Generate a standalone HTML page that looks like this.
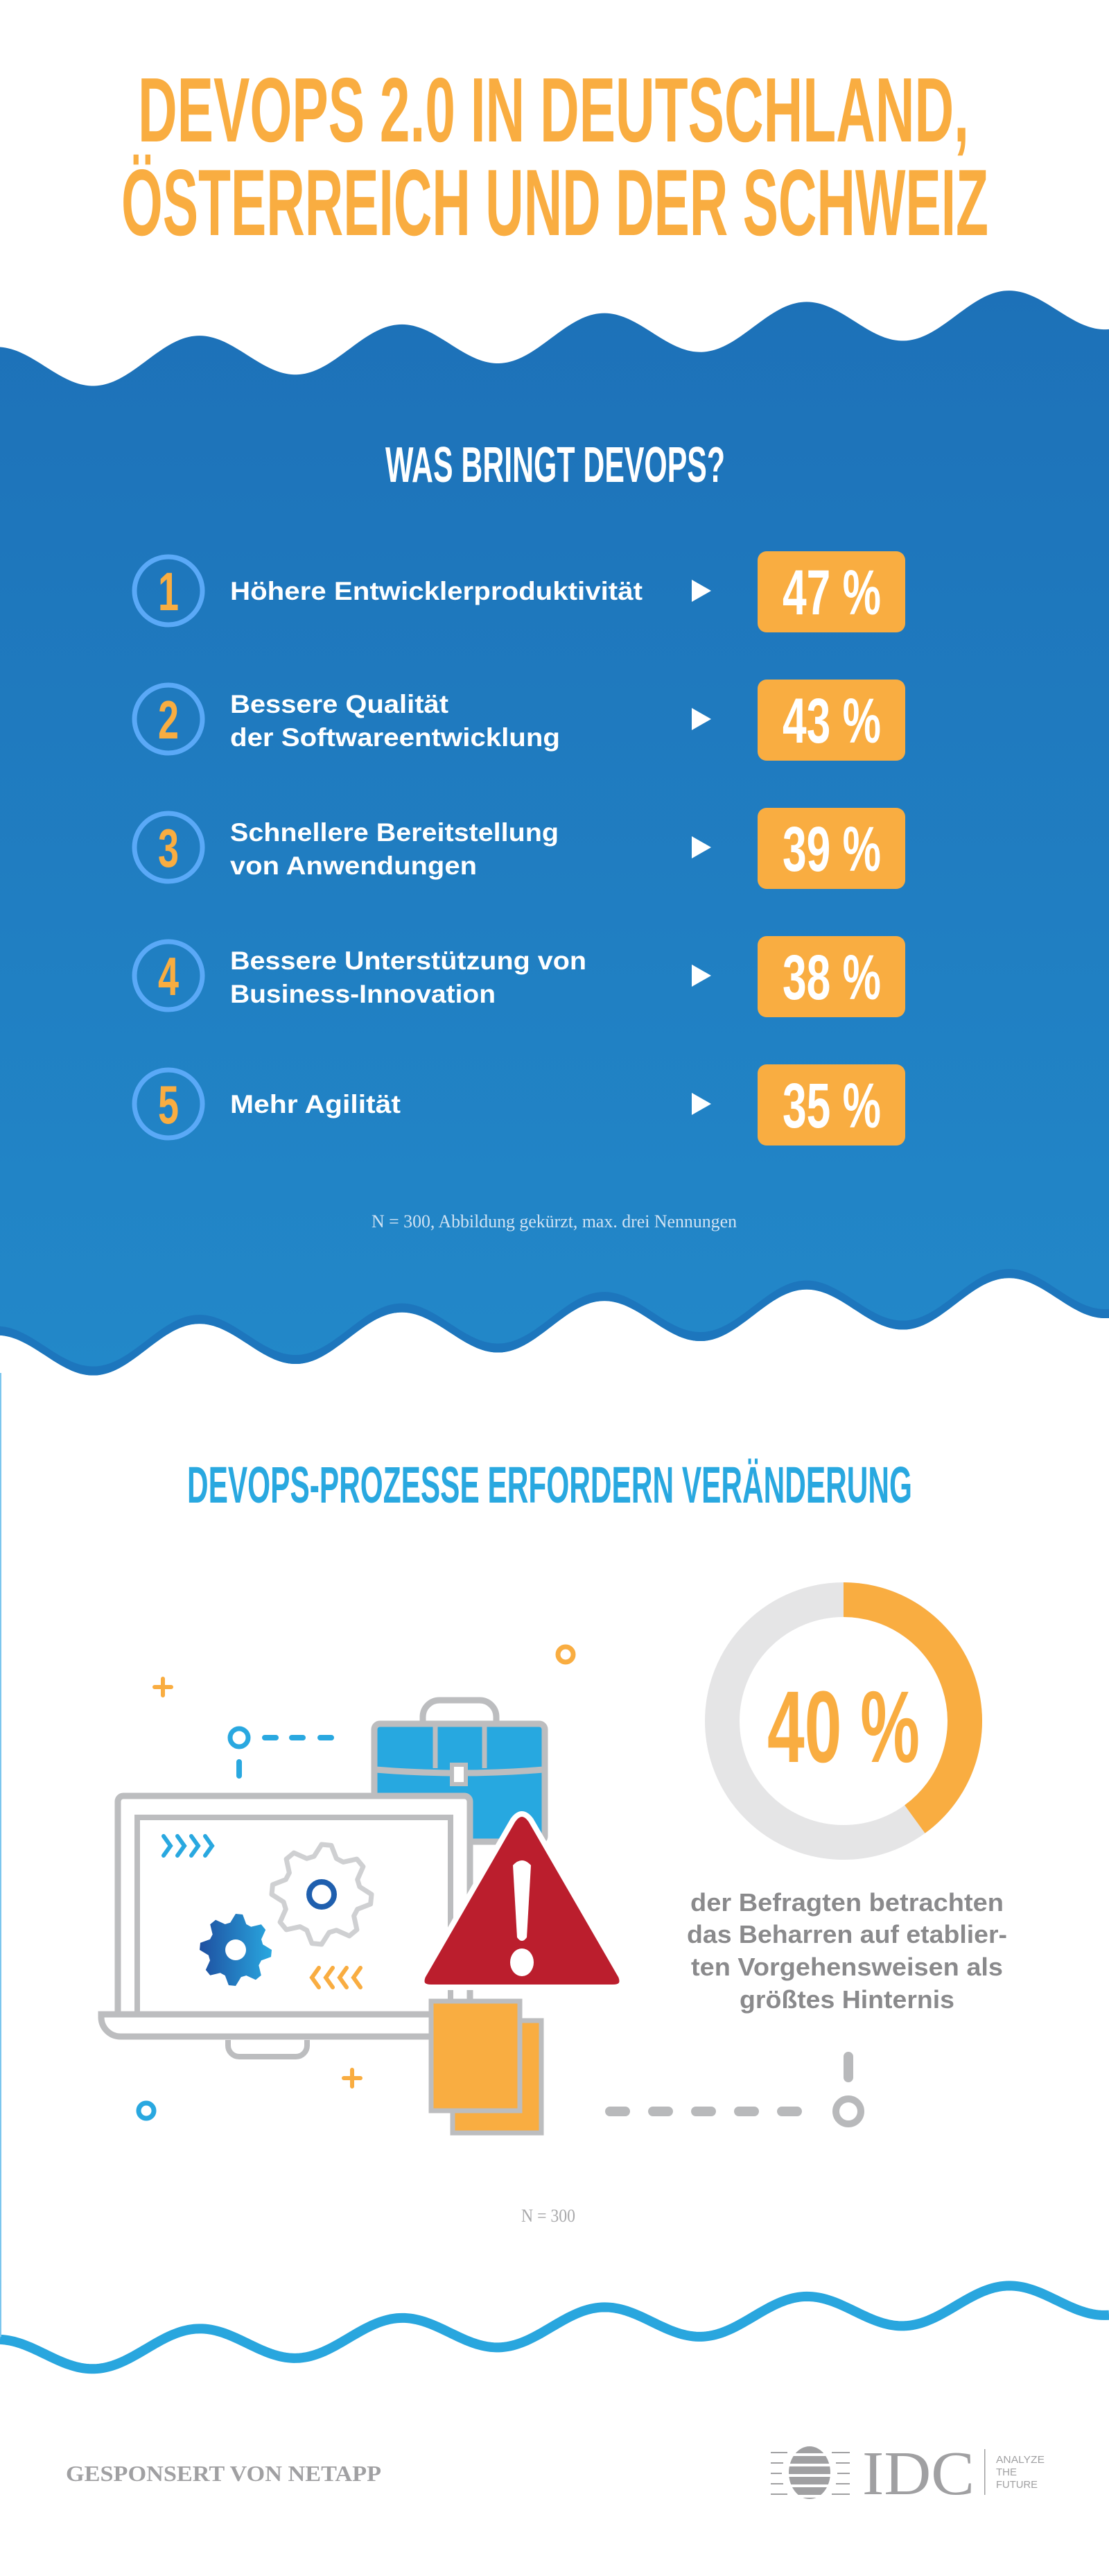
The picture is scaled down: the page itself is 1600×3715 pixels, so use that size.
<!DOCTYPE html>
<html><head><meta charset="utf-8"><title>DevOps 2.0</title>
<style>html,body{margin:0;padding:0;background:#fff;}svg{display:block;}</style></head>
<body>
<svg id="page" width="1600" height="3715" viewBox="0 0 1600 3715" xmlns="http://www.w3.org/2000/svg">
<defs>
<linearGradient id="bg" x1="0" y1="0" x2="0" y2="1"><stop offset="0" stop-color="#1d71b8"/><stop offset="1" stop-color="#2288c9"/></linearGradient>
<linearGradient id="gearg" x1="0" y1="0" x2="1" y2="0"><stop offset="0" stop-color="#1e4fa0"/><stop offset="1" stop-color="#29a8e0"/></linearGradient>
</defs>
<g id="blue-area"></g>
<g id="deco-wave"></g>
<rect x="0" y="1980" width="2" height="1390" fill="#7cc6ee"/>

<text x="199" y="204" textLength="1199" lengthAdjust="spacingAndGlyphs" font-family="Liberation Sans Narrow, Liberation Sans, sans-serif" font-weight="bold" font-size="132" fill="#f9ad41">DEVOPS 2.0 IN DEUTSCHLAND,</text>
<text x="175" y="339" textLength="1251" lengthAdjust="spacingAndGlyphs" font-family="Liberation Sans Narrow, Liberation Sans, sans-serif" font-weight="bold" font-size="136" fill="#f9ad41">ÖSTERREICH UND DER SCHWEIZ</text>

<text x="556" y="695" textLength="490" lengthAdjust="spacingAndGlyphs" font-family="Liberation Sans Narrow, Liberation Sans, sans-serif" font-weight="bold" font-size="72" fill="#fff">WAS BRINGT DEVOPS?</text>

<g id="rows"></g>

<text x="536" y="1770" textLength="527" lengthAdjust="spacingAndGlyphs" font-family="Liberation Serif, serif" font-size="26" fill="#cfe2f3">N = 300, Abbildung gekürzt, max. drei Nennungen</text>

<text x="270" y="2167" textLength="1046" lengthAdjust="spacingAndGlyphs" font-family="Liberation Sans Narrow, Liberation Sans, sans-serif" font-weight="bold" font-size="74" fill="#29a8e0">DEVOPS-PROZESSE ERFORDERN VERÄNDERUNG</text>

<g>
  <circle cx="816" cy="2386" r="11" fill="none" stroke="#f9ad41" stroke-width="7"/>
  <path d="M235 2421v24M223 2433h24" stroke="#f9ad41" stroke-width="6" stroke-linecap="round"/>
  <path d="M508 2985v24M496 2997h24" stroke="#f9ad41" stroke-width="6" stroke-linecap="round"/>
  <circle cx="345" cy="2506" r="13" fill="none" stroke="#29a8e0" stroke-width="7"/>
  <path d="M382 2506h16M421 2506h16M462 2506h16M345 2541v20" stroke="#29a8e0" stroke-width="8" stroke-linecap="round"/>
  <circle cx="211" cy="3044" r="11" fill="none" stroke="#29a8e0" stroke-width="7"/>
  <path d="M880 3045h22M942 3045h22M1004 3045h22M1066 3045h22M1128 3045h22M1224 2966v30" stroke="#b8b9bb" stroke-width="14" stroke-linecap="round"/>
  <circle cx="1224" cy="3045" r="18" fill="none" stroke="#b8b9bb" stroke-width="10"/>

  <g>
    <path d="M610 2486v-10a24 24 0 0 1 24-24h58a24 24 0 0 1 24 24v10" fill="none" stroke="#bcbdbf" stroke-width="9"/>
    <rect x="540" y="2486" width="246" height="170" rx="8" fill="#27a8e0" stroke="#bcbdbf" stroke-width="9"/>
    <path d="M628 2490v60M699 2490v60" stroke="#bcbdbf" stroke-width="7"/>
    <path d="M542 2552q120 10 242 0" fill="none" stroke="#bcbdbf" stroke-width="9"/>
    <rect x="652" y="2545" width="20" height="28" fill="#fff" stroke="#bcbdbf" stroke-width="6"/>
  </g>
  <g>
    <rect x="170" y="2590" width="508" height="320" rx="8" fill="#fff" stroke="#bcbdbf" stroke-width="9"/>
    <rect x="198" y="2621" width="452" height="290" fill="#fff" stroke="#bcbdbf" stroke-width="8"/>
    <path d="M146 2905h556v4a28 28 0 0 1 -28 28h-500a28 28 0 0 1 -28 -28z" fill="#fff" stroke="#bcbdbf" stroke-width="9"/>
    <path d="M329 2942v8a16 16 0 0 0 16 16h82a16 16 0 0 0 16 -16v-8" fill="none" stroke="#bcbdbf" stroke-width="8"/>
    <path d="M236 2648l10 14l-10 14M256 2648l10 14l-10 14M276 2648l10 14l-10 14M296 2648l10 14l-10 14" fill="none" stroke="#29a8e0" stroke-width="6" stroke-linecap="round"/>
    <path d="M460 2838l-10 14l10 14M480 2838l-10 14l10 14M500 2838l-10 14l10 14M520 2838l-10 14l10 14" fill="none" stroke="#f9ad41" stroke-width="6" stroke-linecap="round"/>
    <g id="gears"></g>
  </g>
  <g>
    <rect x="653" y="2914" width="128" height="162" fill="#f9ad41" stroke="#bcbdbf" stroke-width="7"/>
    <rect x="622" y="2886" width="128" height="158" fill="#f9ad41" stroke="#bcbdbf" stroke-width="7"/>
  </g>
  <g>
    <path d="M740 2625q13-18 26 0l130 225q6 16-12 16h-262q-18 0-12-16z" fill="#bb1e2d" stroke="#fff" stroke-width="8" stroke-linejoin="round"/>
    <path d="M740 2690q13-14 26 0l-6 104q-7 10-14 0z" fill="#fff"/>
    <ellipse cx="753" cy="2830" rx="17" ry="20" fill="#fff"/>
  </g>
</g>

<g id="donut"></g>
<text x="1107" y="2541" textLength="220" lengthAdjust="spacingAndGlyphs" font-family="Liberation Sans Narrow, Liberation Sans, sans-serif" font-weight="bold" font-size="147" fill="#f9ad41">40 %</text>
<g font-family="Liberation Sans, sans-serif" font-weight="bold" font-size="36" fill="#8a8a8c" text-anchor="middle">
  <text x="1222" y="2756" textLength="452" lengthAdjust="spacingAndGlyphs">der Befragten betrachten</text>
  <text x="1222" y="2802" textLength="462" lengthAdjust="spacingAndGlyphs">das Beharren auf etablier-</text>
  <text x="1222" y="2849" textLength="450" lengthAdjust="spacingAndGlyphs">ten Vorgehensweisen als</text>
  <text x="1222" y="2896" textLength="310" lengthAdjust="spacingAndGlyphs">größtes Hinternis</text>
</g>
<text x="752" y="3204" textLength="78" lengthAdjust="spacingAndGlyphs" font-family="Liberation Serif, serif" font-size="26" fill="#a9a9ab">N = 300</text>

<text x="95" y="3578" textLength="455" lengthAdjust="spacingAndGlyphs" font-family="Liberation Serif, serif" font-weight="bold" font-size="32" fill="#a0a0a2">GESPONSERT VON NETAPP</text>
<g>
  <clipPath id="gc"><ellipse cx="1168" cy="3566" rx="30" ry="38"/></clipPath>
  <g clip-path="url(#gc)" fill="#a0a0a2"><rect x="1130" y="3526" width="80" height="80"/></g>
  <g stroke="#fff" stroke-width="4"><path d="M1110 3540h118M1110 3555h118M1110 3570h118M1110 3585h118M1110 3600h118"/></g>
  <g stroke="#a0a0a2" stroke-width="2"><path d="M1112 3537h24M1200 3537h26M1112 3552h18M1206 3552h20M1112 3567h16M1208 3567h18M1112 3582h18M1206 3582h20M1112 3597h24M1200 3597h26"/></g>
  <text x="1244" y="3597" textLength="162" lengthAdjust="spacingAndGlyphs" font-family="Liberation Serif, serif" font-size="90" fill="#a0a0a2">IDC</text>
  <rect x="1420" y="3532" width="1.5" height="66" fill="#a0a0a2"/>
  <g font-family="Liberation Sans Narrow, Liberation Sans, sans-serif" font-size="15" fill="#a0a0a2">
    <text x="1437" y="3552" textLength="70" lengthAdjust="spacingAndGlyphs">ANALYZE</text>
    <text x="1437" y="3570">THE</text>
    <text x="1437" y="3588" textLength="60" lengthAdjust="spacingAndGlyphs">FUTURE</text>
  </g>
</g>
</svg>
<script>
const rowNumbers = ['1','2','3','4','5'];
const rowLines = [['Höhere Entwicklerproduktivität'],['Bessere Qualität','der Softwareentwicklung'],['Schnellere Bereitstellung','von Anwendungen'],['Bessere Unterstützung von','Business-Innovation'],['Mehr Agilität']];
const rowValues = [47,43,39,38,35];
const donutValue = [40];
const rowTextWidths = [[595],[315,476],[474,356],[514,383],[246]];

(function(){
const NS='http://www.w3.org/2000/svg';
function mk(tag, attrs, parent){const e=document.createElementNS(NS,tag);for(const k in attrs)e.setAttribute(k,attrs[k]);parent.appendChild(e);return e;}

function waveY(x, mid, slope, amp){return mid + slope*(x-217) + amp*Math.cos(2*Math.PI*(x-138)/292);}
function wavePts(mid,slope,amp){const p=[];for(let x=0;x<=1600;x+=4)p.push([x,waveY(x,mid,slope,amp)]);return p;}
const blue=document.getElementById('blue-area');
const topW=wavePts(520,-0.0557,32), botW=wavePts(1946,-0.0565,33), bandW=wavePts(1933,-0.0565,33);
const d='M'+topW.map(p=>p.join(',')).join(' L')+' L'+botW.slice().reverse().map(p=>p.join(',')).join(' L')+'Z';
const bgp=mk('path',{d:d,fill:'url(#bg)'},blue);


const d2='M'+bandW.map(p=>p.join(',')).join(' L')+' L'+botW.slice().reverse().map(p=>p.join(',')).join(' L')+'Z';
const bp=mk('path',{d:d2,fill:'#1d76bd'},blue);


const dw=wavePts(3387,-0.053,25);
const dwp=mk('path',{d:'M'+dw.map(p=>p.join(',')).join(' L'),fill:'none',stroke:'#29a6de','stroke-width':14},document.getElementById('deco-wave'));



const rows=document.getElementById('rows');
const rowY=i=>852+i*185;
rowNumbers.forEach((n,i)=>{
  const c=rowY(i);
  const g=mk('g',{},rows);
  
  
  mk('circle',{cx:243,cy:c,r:49,fill:'none',stroke:'#5aa9f7','stroke-width':7},g);
  const t=mk('text',{x:243,y:c+28,'text-anchor':'middle','font-family':'Liberation Sans Narrow, Liberation Sans, sans-serif','font-weight':'bold','font-size':78,fill:'#f9ad41',textLength:30,lengthAdjust:'spacingAndGlyphs'},g);
  t.textContent=n;
  const lines=rowLines[i];
  lines.forEach((ln,j)=>{
    const y = lines.length===1 ? c+13 : (j===0 ? c-9 : c+39);
    const tt=mk('text',{x:332,y:y,'font-family':'Liberation Sans, sans-serif','font-weight':'bold','font-size':37,fill:'#fff',textLength:rowTextWidths[i][j],lengthAdjust:'spacingAndGlyphs'},g);
    tt.textContent=ln;
  });
  mk('path',{d:'M998 '+(c-16)+'L1026 '+c+'L998 '+(c+16)+'Z',fill:'#fff'},g);
  const box=mk('rect',{x:1093,y:c-57,width:213,height:117,rx:13,fill:'#f9ad41'},g);
  
  
  const v=mk('text',{x:1129,y:c+34,'font-family':'Liberation Sans Narrow, Liberation Sans, sans-serif','font-weight':'bold','font-size':92,fill:'#fff',textLength:142,lengthAdjust:'spacingAndGlyphs'},g);
  v.textContent=rowValues[i]+' %';
});

const dn=document.getElementById('donut');
const cx=1217, cy=2482, R=175;
const bgc=mk('circle',{cx:cx,cy:cy,r:R,fill:'none',stroke:'#e5e5e6','stroke-width':50},dn);


const a=donutValue[0]/100*2*Math.PI;
const x2=cx+R*Math.sin(a), y2=cy-R*Math.cos(a);
const arc=mk('path',{d:'M'+cx+' '+(cy-R)+' A'+R+' '+R+' 0 '+(a>Math.PI?1:0)+' 1 '+x2+' '+y2,fill:'none',stroke:'#f9ad41','stroke-width':50},dn);



function gearPath(gx,gy,ro,ri,teeth){let s='';const n=teeth*4;for(let k=0;k<n;k++){const ang=k/n*2*Math.PI - Math.PI/2;const r=(k%4<2)?ro:ri;s+=(k?'L':'M')+(gx+r*Math.cos(ang)).toFixed(1)+' '+(gy+r*Math.sin(ang)).toFixed(1);}return s+'Z';}
const gg=document.getElementById('gears');
const g1=mk('path',{d:gearPath(464,2732,72,56,8),fill:'#fff',stroke:'#cfd0d2','stroke-width':7,'stroke-linejoin':'round'},gg);


mk('circle',{cx:464,cy:2732,r:18,fill:'none',stroke:'#1f5fae','stroke-width':8},gg);
const g2=mk('path',{d:gearPath(340,2812,52,40,8),fill:'url(#gearg)'},gg);


mk('circle',{cx:340,cy:2812,r:15,fill:'#fff'},gg);
})();
</script>
</body></html>
